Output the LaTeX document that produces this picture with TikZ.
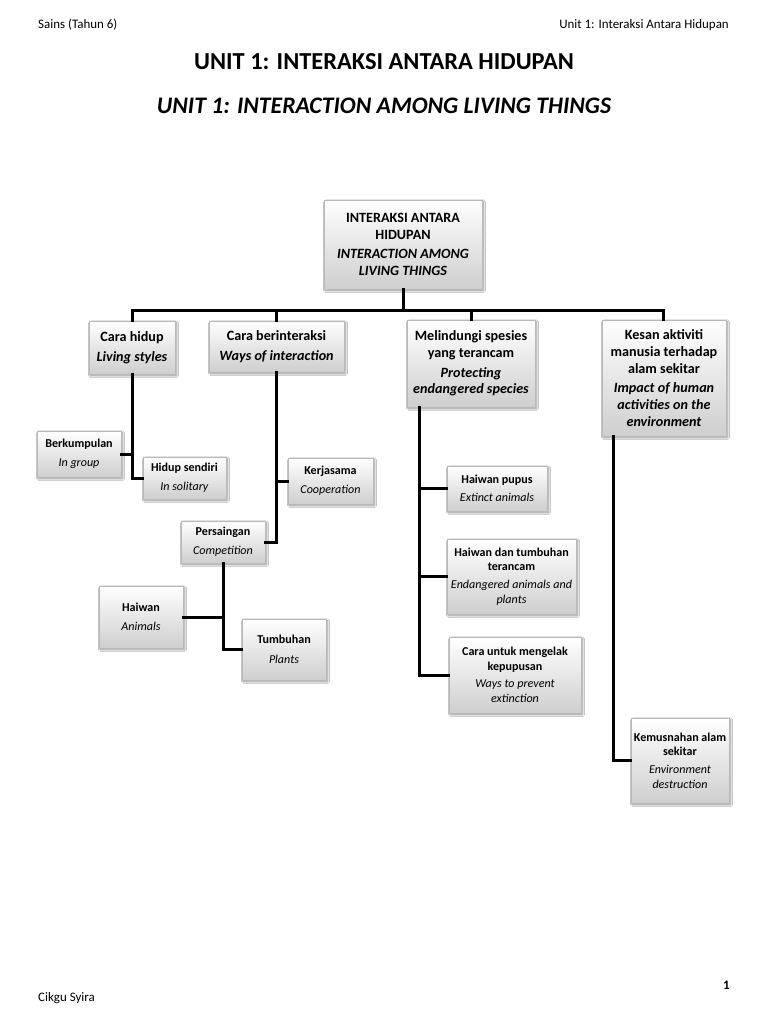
\documentclass[tikz,border=0pt]{standalone}
\usepackage{fontspec}
\setmainfont{Carlito}
\usetikzlibrary{shadows,shadows.blur}
\tikzset{
  box/.style={rectangle, draw=gray!55, line width=0.6bp, top color=white, bottom color=gray!38,
    blur shadow={shadow blur steps=6, shadow xshift=1.6bp, shadow yshift=-1.8bp, shadow opacity=45},
    align=center, inner sep=1bp, text=black},
  bigbox/.style={box, font=\fontsize{14.2}{16.8}\selectfont},
  smallbox/.style={box, font=\fontsize{12.1}{14.6}\selectfont},
  conn/.style={line width=3bp, black, line cap=rect},
  hdr/.style={font=\fontsize{13}{15}\selectfont, inner sep=0pt},
}
\begin{document}
\begin{tikzpicture}[x=1bp,y=-1bp]
\useasboundingbox (0,0) rectangle (768,1024);
\fill[white] (0,0) rectangle (768,1024);
% header / footer
\node[hdr, anchor=west] (hl) at (38,25) {Sains (Tahun 6)};
\node[hdr, anchor=east] (hr) at (729,25) {Unit 1: Interaksi Antara Hidupan};
\node[font=\bfseries\fontsize{24.5}{28}\selectfont] (t1) at (384,62) {UNIT 1: INTERAKSI ANTARA HIDUPAN};
\node[font=\bfseries\itshape\fontsize{23.8}{28}\selectfont] (t2) at (384,106) {UNIT 1: INTERACTION AMONG LIVING THINGS};
\node[hdr, anchor=west] (fl) at (38,998) {Cikgu Syira};
\node[hdr, anchor=east, font=\bfseries\fontsize{13}{15}\selectfont] (fr) at (730,985) {1};

% main boxes
\node[bigbox, minimum width=158bp, minimum height=89bp] (root) at (403,244.5)
  {\textbf{INTERAKSI ANTARA}\\\textbf{HIDUPAN}\\[3bp]\textbf{\textit{INTERACTION AMONG}}\\\textbf{\textit{LIVING THINGS}}};
\node[bigbox, minimum width=86bp, minimum height=53bp] (b1) at (132,347.5)
  {\textbf{Cara hidup}\\[3bp]\textbf{\textit{Living styles}}};
\node[bigbox, minimum width=135bp, minimum height=51bp] (b2) at (276.5,346.5)
  {\textbf{Cara berinteraksi}\\[3bp]\textbf{\textit{Ways of interaction}}};
\node[bigbox, minimum width=128bp, minimum height=87bp] (b3) at (471,363.5)
  {\textbf{Melindungi spesies}\\\textbf{yang terancam}\\[3bp]\textbf{\textit{Protecting}}\\\textbf{\textit{endangered species}}};
\node[bigbox, minimum width=124bp, minimum height=116bp] (b4) at (664,378)
  {\textbf{Kesan aktiviti}\\\textbf{manusia terhadap}\\\textbf{alam sekitar}\\[3bp]\textbf{\textit{Impact of human}}\\\textbf{\textit{activities on the}}\\\textbf{\textit{environment}}};

% small boxes
\node[smallbox, minimum width=84bp, minimum height=46bp] (berk) at (79,454)
  {\textbf{Berkumpulan}\\[4bp]\textit{In group}};
\node[smallbox, minimum width=83bp, minimum height=42bp] (hidup) at (184.5,478)
  {\textbf{Hidup sendiri}\\[4bp]\textit{In solitary}};
\node[smallbox, minimum width=85bp, minimum height=46bp] (kerja) at (330.5,481)
  {\textbf{Kerjasama}\\[4bp]\textit{Cooperation}};
\node[smallbox, minimum width=84bp, minimum height=42bp] (pers) at (223,542)
  {\textbf{Persaingan}\\[4bp]\textit{Competition}};
\node[smallbox, minimum width=84bp, minimum height=62bp] (haiwan) at (141,617)
  {\textbf{Haiwan}\\[5bp]\textit{Animals}};
\node[smallbox, minimum width=84bp, minimum height=61bp] (tumb) at (284,649.5)
  {\textbf{Tumbuhan}\\[5bp]\textit{Plants}};
\node[smallbox, minimum width=100bp, minimum height=45bp] (pupus) at (497,488.5)
  {\textbf{Haiwan pupus}\\[4bp]\textit{Extinct animals}};
\node[smallbox, minimum width=129bp, minimum height=75bp] (teran) at (511.5,576.5)
  {\textbf{Haiwan dan tumbuhan}\\\textbf{terancam}\\[3bp]\textit{Endangered animals and}\\\textit{plants}};
\node[smallbox, minimum width=132bp, minimum height=76bp] (cara) at (515,675)
  {\textbf{Cara untuk mengelak}\\\textbf{kepupusan}\\[3bp]\textit{Ways to prevent}\\\textit{extinction}};
\node[smallbox, minimum width=98bp, minimum height=85bp] (kemus) at (680,760.5)
  {\textbf{Kemusnahan alam}\\\textbf{sekitar}\\[3bp]\textit{Environment}\\\textit{destruction}};

% connectors
\coordinate (bus) at (403,310);
\coordinate (b3s) at ([xshift=13bp]b3.south west);
\coordinate (b4s) at ([xshift=12bp]b4.south west);
\draw[conn] (root.south) -- (bus);
\draw[conn] (b1.north) |- (bus) -| ([xshift=-1bp]b4.north);
\draw[conn] (b2.north) -- (b2.north |- bus);
\draw[conn] (b3.north) -- (b3.north |- bus);
\draw[conn] (b1.south) |- (hidup.west);
\draw[conn] (berk.east) -- (berk.east -| b1.south);
\draw[conn] (b2.south) |- (pers.east);
\draw[conn] (kerja.west) -- (kerja.west -| b2.south);
\draw[conn] (pers.south) |- (tumb.west);
\draw[conn] (haiwan.east) -- (haiwan.east -| pers.south);
\draw[conn] (b3s) |- (cara.west);
\draw[conn] (pupus.west) -- (pupus.west -| b3s);
\draw[conn] (teran.west) -- (teran.west -| b3s);
\draw[conn] (b4s) |- (kemus.west);
\end{tikzpicture}
\end{document}
